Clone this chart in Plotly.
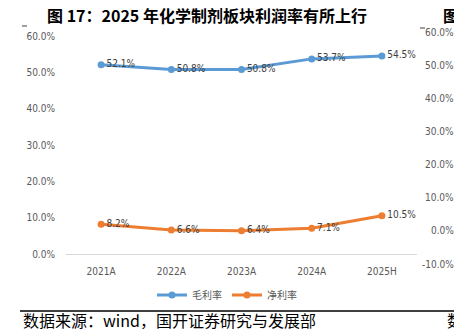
import plotly.graph_objects as go

categories = ["2021A", "2022A", "2023A", "2024A", "2025H"]
gross_margin = [52.1, 50.8, 50.8, 53.7, 54.5]
net_margin = [8.2, 6.6, 6.4, 7.1, 10.5]
left_ticks = [0, 10, 20, 30, 40, 50, 60]
right_ticks = [60, 50, 40, 30, 20, 10, 0, -10]
title_text = "图 17：2025 年化学制剂板块利润率有所上行"
source_text = "数据来源：wind，国开证券研究与发展部"

W, H = 454, 332
L, R, T, B = 66, 37, 36, 78
PW, PH = W - L - R, H - T - B

def px(x):
    return (x - L) / PW

def py(y):
    return (H - B - y) / PH

NARROW = "Liberation Sans Narrow, Arial Narrow, DejaVu Sans Condensed, sans-serif"
CJK = "Noto Sans CJK SC, sans-serif"

fig = go.Figure()
fig.add_trace(go.Scatter(
    x=categories, y=gross_margin, name="毛利率", mode="lines+markers+text",
    line=dict(color="#5B9BD5", width=3), marker=dict(size=7, color="#5B9BD5"),
    text=[f"{v:.1f}%" for v in gross_margin], textposition="middle right",
    textfont=dict(size=10, color="#404040", family=NARROW), cliponaxis=False,
))
fig.add_trace(go.Scatter(
    x=categories, y=net_margin, name="净利率", mode="lines+markers+text",
    line=dict(color="#ED7D31", width=3), marker=dict(size=7, color="#ED7D31"),
    text=[f"{v:.1f}%" for v in net_margin], textposition="middle right",
    textfont=dict(size=10, color="#404040", family=NARROW), cliponaxis=False,
))

annotations = [
    dict(text=f"<b>{title_text}</b>", x=px(207), y=py(15), xref="paper", yref="paper",
         showarrow=False, font=dict(size=16, color="#000000", family=CJK),
         xanchor="center", yanchor="middle"),
    dict(text="<b>图</b>", x=px(441), y=py(15), xref="paper", yref="paper",
         showarrow=False, font=dict(size=16, color="#000000", family=CJK),
         xanchor="left", yanchor="middle"),
    dict(text=source_text, x=px(21), y=py(320), xref="paper", yref="paper",
         showarrow=False, font=dict(size=16, color="#000000", family=CJK),
         xanchor="left", yanchor="middle"),
    dict(text="数", x=px(445), y=py(320), xref="paper", yref="paper",
         showarrow=False, font=dict(size=16, color="#000000", family=CJK),
         xanchor="left", yanchor="middle"),
]
# neighbouring chart's right axis labels
for i, v in enumerate(right_ticks):
    ypix = 32 + (60 - v) / 70 * (264 - 32)
    annotations.append(dict(
        text=f"{v:.1f}%", x=px(456), y=py(ypix), xref="paper", yref="paper",
        showarrow=False, font=dict(size=10, color="#595959", family=NARROW),
        xanchor="right", yanchor="middle"))

shapes = [
    dict(type="line", xref="paper", yref="paper", x0=px(20), x1=px(454),
         y0=py(311), y1=py(311), line=dict(color="#000000", width=1.5)),
    dict(type="line", xref="paper", yref="paper", x0=px(22), x1=px(27),
         y0=py(26), y1=py(26), line=dict(color="#404040", width=1)),
    dict(type="line", xref="paper", yref="paper", x0=px(420), x1=px(425),
         y0=py(28), y1=py(28), line=dict(color="#404040", width=1)),
]

fig.update_layout(
    width=W, height=H, margin=dict(l=L, r=R, t=T, b=B, pad=0),
    paper_bgcolor="white", plot_bgcolor="white",
    showlegend=True,
    legend=dict(orientation="h", x=px(227), y=py(295), xanchor="center", yanchor="middle",
                font=dict(size=10, color="#595959", family=CJK), itemwidth=30,
                tracegroupgap=0, bgcolor="rgba(0,0,0,0)"),
    annotations=annotations, shapes=shapes,
    xaxis=dict(type="category", range=[-0.5, 4.5], showgrid=False, zeroline=False,
               showline=True, linecolor="#D9D9D9", linewidth=1, ticks="",
               tickfont=dict(size=10, color="#595959", family=NARROW), ticklabelstandoff=8),
    yaxis=dict(range=[0, 60], tickvals=left_ticks, ticktext=[f"{v:.1f}%" for v in left_ticks],
               showgrid=False, zeroline=False, showline=False, ticks="",
               tickfont=dict(size=10, color="#595959", family=NARROW), ticklabelstandoff=10),
)

fig.write_html("out.html")
